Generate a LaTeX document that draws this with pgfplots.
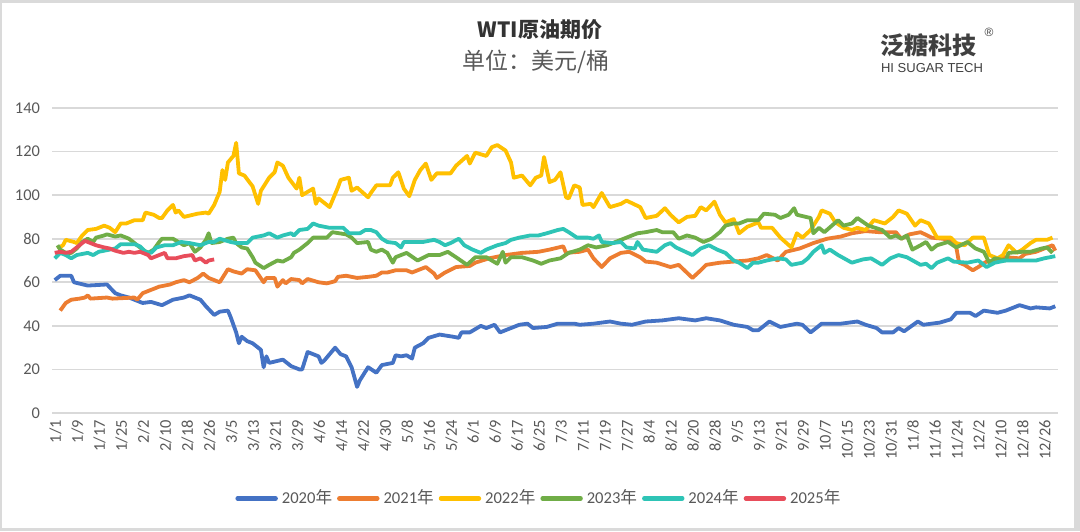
\documentclass[border=0pt]{standalone}
\usepackage{pgfplots}
\pgfplotsset{compat=1.18}
\usepackage{fontspec}
\setmainfont{Carlito}
\newfontfamily\cjk{Noto Sans CJK SC}
\newfontfamily\arialf{Liberation Sans}
\definecolor{c20}{HTML}{4472C4}
\definecolor{c21}{HTML}{ED7D31}
\definecolor{c22}{HTML}{FFC000}
\definecolor{c23}{HTML}{70AD47}
\definecolor{c24}{HTML}{2EC4B6}
\definecolor{c25}{HTML}{E84D5B}
\definecolor{gridc}{HTML}{D9D9D9}
\definecolor{txt}{HTML}{595959}
\definecolor{frame}{HTML}{DADADA}
\begin{document}
\begin{tikzpicture}
% frame of the picture (1px = 0.5pt)
\fill[frame] (0,0) rectangle (540pt,265.5pt);
\fill[white] (1pt,1.75pt) rectangle (537pt,264pt);
\begin{axis}[
  at={(26pt,59pt)}, anchor=south west,
  scale only axis, width=503pt, height=152.5pt,
  xmin=0, xmax=366, ymin=0, ymax=140,
  ytick={0,20,...,140},
  xtick={0,8,...,360},
  xticklabels={1/1,1/9,1/17,1/25,2/2,2/10,2/18,2/26,3/5,3/13,3/21,3/29,4/6,4/14,4/22,4/30,5/8,5/16,5/24,6/1,6/9,6/17,6/25,7/3,7/11,7/19,7/27,8/4,8/12,8/20,8/28,9/5,9/13,9/21,9/29,10/7,10/15,10/23,10/31,11/8,11/16,11/24,12/2,12/10,12/18,12/26},
  axis line style={draw=none},
  ymajorgrids, grid style={gridc, line width=0.8pt},
  major tick length=0pt,
  tick label style={font=\fontsize{8.2}{9}\selectfont, text=txt},
  /pgf/number format/assume math mode=true,
  yticklabel style={xshift=-2.5pt},
  xticklabel style={rotate=90, anchor=east, yshift=-1.8pt},
  every axis plot/.append style={line width=1.9pt, line join=round, mark=none},
  legend columns=6,
  legend style={at={(axis description cs:0.485,-0.28)}, anchor=center,
    draw=none, fill=none, font=\fontsize{8.3}{9}\selectfont, text=txt,
    /tikz/every even column/.append style={column sep=0.5pt}},
  legend image code/.code={\draw[#1, line width=2.2pt, line cap=round] (0pt,0pt) -- (19pt,0pt);},
]
% 2020
\addplot[c20] coordinates {
(1,61) (3,63) (7,63) (8,60) (13,58.5) (20,59) (23,55) (25,54) (28,53) (33,50.5) (36,51) (40,49.5)
(44,52) (48,53) (50,54) (54,52) (56,49) (59,45) (61,46.5) (64,47) (65,44) (67,37) (68,32) (69,35)
(71,33) (73,32) (76,29) (77,21) (78,26) (79,23) (84,24.5) (87,21.5) (90,20) (91,20) (93,28) (97,26)
(98,23) (99,24) (103,30) (105,27) (107,26) (109,21) (111,12) (112,15) (115,21) (118,18.5) (120,22)
(124,23) (125,26.5) (127,26) (129,26.5) (131,25) (132,30) (135,32) (137,34.5) (141,36) (146,35)
(148,34.5) (149,37) (152,37) (156,40) (158,39) (161,40.5) (163,37) (167,39) (170,40.5) (173,41)
(175,39) (180,39.5) (184,41) (190,41) (192,40.5) (197,41) (203,42) (207,41) (211,40.5) (216,42)
(222,42.5) (228,43.5) (234,42.5) (238,43.5) (243,42.5) (248,40.5) (253,39.5) (255,38) (257,38)
(261,42) (265,39.5) (271,41) (273,40.5) (276,37) (280,41) (287,41) (293,42) (296,40.5) (300,39)
(302,37) (306,37) (308,39) (310,37.5) (315,42) (317,40.5) (323,41.5) (327,43) (329,46) (334,46)
(336,44.5) (339,47) (344,46) (347,47) (352,49.5) (356,48) (358,48.5) (363,48) (365,49)
};
\addlegendentry{2020{\cjk 年}}
% 2021
\addplot[c21] coordinates {
(3,47) (5,50.5) (7,52) (10,52.5) (12,53) (13,54) (14,52.5) (20,53) (22,52.5) (30,53) (31,52) (33,55)
(36,56.5) (39,58) (43,59) (45,60) (48,61) (50,60) (53,62) (55,64) (57,62) (61,60) (64,66) (66,65)
(69,64) (71,66) (74,65.5) (77,60) (78,62) (81,62) (82,58) (84,61) (85,59.5) (87,61.5) (90,61)
(91,59.5) (93,61.5) (97,60) (100,59.5) (103,60.5) (104,62.5) (107,63) (111,62) (115,62.5) (118,63)
(120,64.5) (122,64.5) (125,65.5) (129,65.5) (131,64.5) (136,67) (139,64) (140,62) (143,64.5)
(147,67) (152,67.5) (154,69) (159,71) (165,72.5) (171,73.5) (177,74) (181,75) (186,76.5) (187,73.5)
(192,74) (195,75) (197,71) (200,67) (203,71) (207,73.5) (210,74) (214,71.5) (216,69.5) (220,69)
(225,67) (228,68) (233,62) (236,65.5) (238,68) (243,69) (248,69.5) (253,70) (257,71) (260,72.5)
(264,70) (267,74) (272,75.5) (277,78) (282,80) (287,81) (291,82.5) (296,83.5) (301,83) (307,83)
(309,80) (312,82) (316,83) (320,80.5) (324,80) (327,79.5) (329,76) (330,69) (332,68) (335,65.5)
(337,67) (340,69.5) (344,70) (347,71.5) (352,71) (354,73) (358,74) (362,76) (364,77) (365,74.5)
};
\addlegendentry{2021{\cjk 年}}
% 2022
\addplot[c22] coordinates {
(2,75.5) (4,77) (5,79.5) (8,78.5) (9,78) (11,81.5) (13,84) (16,84.5) (19,86) (21,85) (23,83) (25,87)
(27,87) (30,88.5) (33,88.5) (34,92) (37,91) (39,89.5) (40,89.5) (42,93) (44,95.5) (45,92) (46,93)
(48,90) (53,91.5) (56,92) (57,91.5) (59,95.5) (61,101.5) (62,111.5) (63,107) (64,115) (66,118)
(67,124) (68,110) (70,109) (73,104) (75,96) (76,102) (79,108) (81,110.5) (82,115) (84,113.5)
(86,108) (89,103) (90,108) (91,100) (95,103) (96,96) (97,98.5) (101,94.5) (104,103.5) (105,107)
(108,108) (109,102) (111,103.5) (115,99) (116,101) (118,104.5) (121,104.5) (123,104.5) (124,108)
(126,110.5) (128,103) (130,99.5) (132,107) (134,111.5) (136,114.5) (138,107) (140,110) (145,110)
(147,113.5) (151,118) (152,114.5) (154,119.5) (158,118) (160,122) (162,123) (165,120.5) (167,115)
(168,108) (171,109) (174,104.5) (176,108) (178,109) (179,117.5) (181,106) (183,107) (185,110.5)
(187,99) (188,98.5) (190,104.5) (192,103.5) (193,95.5) (196,96) (197,94.5) (200,101) (203,94.5)
(207,96) (209,97.5) (214,94.5) (216,89.5) (220,90.5) (223,94) (225,91) (228,87.5) (231,90)
(234,90.5) (236,94.5) (238,93) (241,97) (243,91) (245,87.5) (248,89) (250,82.5) (253,85.5)
(257,87.5) (258,85) (262,85) (265,80.5) (269,76) (271,82.5) (273,80.5) (276,84) (279,90) (280,93)
(283,91.5) (285,87.5) (288,85) (291,84) (293,85) (296,84) (299,88.5) (303,87) (306,90) (308,93)
(311,91.5) (314,86) (316,88.5) (319,87) (320,85) (322,80.5) (327,80.5) (329,78) (332,77) (335,80.5)
(339,80.5) (341,72.5) (344,71) (346,72.5) (348,77) (351,73.5) (353,75) (356,78) (358,79.5)
(362,79.5) (364,80.5)
};
\addlegendentry{2022{\cjk 年}}
% 2023
\addplot[c23] coordinates {
(2,77) (3,75) (5,73.5) (7,73.5) (9,75.5) (11,78.5) (13,80) (15,78.5) (16,80.5) (19,81.5) (20,82)
(23,81) (25,81.5) (28,80) (31,77) (33,75) (35,73.5) (37,75) (39,78.5) (40,80) (44,80) (46,78.5)
(48,77) (50,78) (52,74) (54,76) (56,79.5) (57,82.5) (58,78) (61,78.5) (64,80) (66,80.5) (67,78)
(69,76) (71,75.5) (73,71.5) (74,69) (77,66.5) (79,68) (82,70) (84,69.5) (87,71.5) (88,73.5) (90,75)
(93,78) (95,80.5) (97,80.5) (100,80.5) (102,83) (107,82) (109,80.5) (111,78) (115,78.5) (116,75)
(118,74) (120,75) (122,73.5) (124,69) (125,71.5) (129,73.5) (133,70) (137,72.5) (141,72.5) (144,74)
(147,71.5) (151,68) (154,71.5) (158,71.5) (162,68.5) (164,74) (165,69) (167,71.5) (171,71.5)
(175,70) (178,68.5) (181,70) (185,71) (188,73.5) (192,75) (195,77) (198,76) (202,77) (205,78.5)
(209,80.5) (213,82.5) (216,83) (220,84) (222,83) (226,83) (228,80) (231,81.5) (234,80.5) (237,78.5)
(240,80) (243,83) (245,86) (248,87) (250,87) (253,88.5) (257,88.5) (259,91.5) (263,91) (265,89.5)
(268,91) (270,94) (271,91) (276,89.5) (277,82.5) (279,85) (281,83) (286,88.5) (288,86) (291,87)
(293,89.5) (297,86) (302,84) (305,80.5) (307,81.5) (309,80) (311,81.5) (313,75) (316,77) (318,78.5)
(320,75) (322,77) (326,78.5) (329,76) (333,78.5) (336,75.5) (339,74) (341,69) (343,71) (347,70)
(348,73.5) (353,74) (356,74) (360,75.5) (362,76) (364,73.5)
};
\addlegendentry{2023{\cjk 年}}
% 2024
\addplot[c24] coordinates {
(1,71) (3,73.5) (5,72.5) (7,71) (9,72.5) (13,73.5) (15,72.5) (17,74) (21,75) (23,75.5) (25,77.5)
(30,77.5) (32,76.5) (34,74) (36,73.5) (38,76) (41,77) (44,77) (47,78.5) (50,78) (54,77) (57,78.5)
(59,78.5) (61,80) (65,78.5) (67,78) (71,78) (73,80.5) (77,81.5) (79,82.5) (82,80.5) (84,81.5)
(87,82.5) (88,81.5) (90,84) (93,84.5) (95,87) (97,86) (101,85) (106,85) (108,82.5) (112,82.5)
(114,84) (116,84) (118,83) (120,80) (122,78.5) (125,78) (127,76) (128,78.5) (130,78.5) (135,78.5)
(139,79.5) (141,78.5) (143,77) (145,78) (148,80) (150,77) (153,75) (156,73.5) (158,75) (162,77)
(165,78) (167,79.5) (170,80.5) (174,81.5) (177,81.5) (180,82.5) (184,84) (186,84.5) (188,83)
(191,80.5) (195,80.5) (197,80) (199,81.5) (200,78.5) (204,78) (207,78.5) (209,76) (212,75.5)
(213,78.5) (215,75) (220,74) (223,77) (225,78) (227,76) (233,72.5) (236,75.5) (239,77) (242,75)
(245,73.5) (248,70) (250,69) (253,66.5) (255,69) (257,69) (260,70) (264,71) (267,70.5) (269,68)
(273,69) (275,71) (277,74) (280,77) (281,73.5) (283,75) (286,72.5) (291,69) (295,70.5) (298,71)
(302,68) (305,71) (308,72.5) (311,71.5) (316,68) (318,68.5) (320,66.5) (322,69) (326,71) (328,69.5)
(333,69) (337,70) (340,67) (343,69) (347,70) (350,70) (355,70) (358,70) (361,71) (365,72)
};
\addlegendentry{2024{\cjk 年}}
% 2025
\addplot[c25] coordinates {
(1,73.5) (3,74) (5,73.5) (7,74) (9,76) (11,78) (12,79) (14,78) (16,77) (19,76) (21,75.5) (23,74.5)
(26,73.5) (28,74) (30,73.5) (32,74) (35,72.5) (36,71) (38,72) (41,73.5) (42,71) (45,71) (48,72)
(51,72.5) (52,70) (54,71) (56,69) (57,70) (59,70.5)
};
\addlegendentry{2025{\cjk 年}}
\end{axis}
% titles
\node[text=black!80] at (270pt,250.5pt) {\cjk\bfseries\fontsize{10.5}{12}\selectfont WTI原油期价};
\node[text=txt] at (268pt,234.5pt) {\cjk\fontsize{11.5}{13}\selectfont 单位：美元/桶};
% logo
\node[text=black!75] at (464pt,243pt) {\cjk\bfseries\fontsize{12}{13}\selectfont 泛糖科技};
\node[text=black!75] at (494.5pt,249.5pt) {\arialf\fontsize{6}{7}\selectfont ®};
\node[text=black!75] at (466pt,231.5pt) {\arialf\fontsize{6.5}{7}\selectfont HI SUGAR TECH};
\end{tikzpicture}
\end{document}
